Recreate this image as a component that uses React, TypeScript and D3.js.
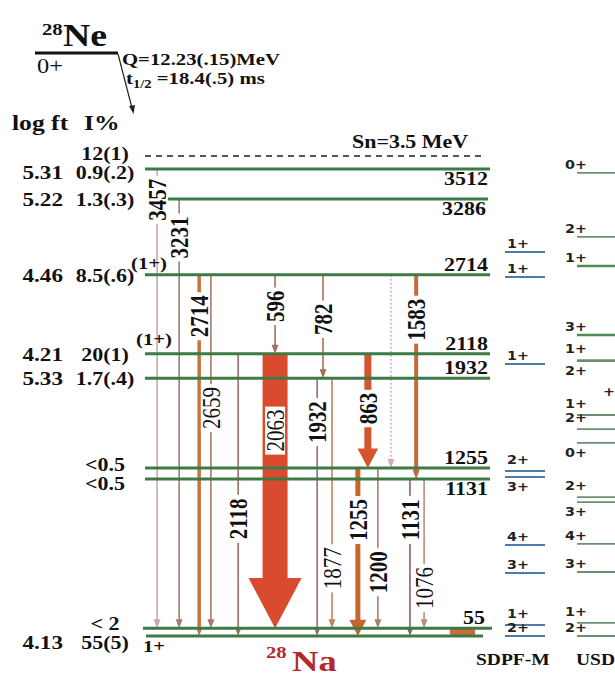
import React from "react";
import * as d3 from "d3";

// ---------------- data ----------------
const levelEnergies = [0, 55, 1131, 1255, 1932, 2118, 2714, 3286, 3512];
const levelNames = ["", "55", "1131", "1255", "1932", "2118", "2714", "3286", "3512"];
const levelLogft = ["4.13", "", "", "", "5.33", "4.21", "4.46", "5.22", "5.31"];
const levelFeeding = ["55(5)", "< 2", "<0.5", "<0.5", "1.7(.4)", "20(1)", "8.5(.6)", "1.3(.3)", "0.9(.2)"];
const levelSpins = ["1+", "", "", "", "", "(1+)", "(1+)", "", ""];

const snEnergy = 3500;
const snLabel = "Sn=3.5 MeV";
const snFeeding = "12(1)";

const gammaEnergies = [3457, 3231, 2714, 2659, 2118, 2063, 596, 782, 1932, 1877, 1583, 863, 1255, 1200, 1131, 1076, 1459];
const gammaFrom = [3512, 3286, 2714, 2714, 2118, 2118, 2714, 2714, 1932, 1932, 2714, 2118, 1255, 1255, 1131, 1131, 2714];
const gammaTo = [55, 55, 0, 55, 0, 55, 2118, 1932, 0, 55, 1131, 1255, 0, 55, 0, 55, 1255];
const gammaIntensity = [4, 4, 14, 4, 4, 100, 4, 5, 4, 5, 16, 28, 20, 4, 4, 4, 3];
const gammaTentative = [false, false, false, false, false, false, false, false, false, false, false, false, false, false, false, false, true];

const lowGammaEnergy = 55;

const sdpfSpins = ["1+", "1+", "1+", "2+", "3+", "4+", "3+", "1+", "2+"];
const sdpfEnergies = [2885, 2697, 2040, 1221, 1154, 656, 454, 79, 0];
const usdSpins = ["0+", "2+", "1+", "3+", "1+", "2+", "1+", "2+", "0+", "2+", "3+", "4+", "3+", "1+", "2+"];
const usdEnergies = [3482, 2999, 2780, 2259, 2070, 2062, 1655, 1549, 1444, 1001, 965, 663, 461, 94, 0];
const usdCutLabel = "+";

const parentName = "Ne";
const parentMass = "28";
const parentSpin = "0+";
const qText = "Q=12.23(.15)MeV";
const halfLife = "=18.4(.5) ms";
const daughterName = "Na";
const daughterMass = "28";

// ---------------- layout / style ----------------
const W = 615;
const H = 676;
const SX = 1.22;
const SERIF = "'Liberation Serif','Times New Roman',serif";
const SANS = "'DejaVu Sans','Liberation Sans',sans-serif";
const LEVEL_COLOR = "#3d7a46";

const levelX0 = [146, 143, 145, 145, 145, 145, 145, 168, 145];
const levelX1 = [483, 492, 490, 490, 490, 490, 490, 488, 490];
const levelNameBelow = [false, false, true, false, false, false, false, true, true];

const gammaSlot = [3.5, 9.9, 15.7, 19.1, 27, 37.7, 37.7, 51.6, 49.9, 54.2, 78.6, 64.6, 61.7, 67.5, 76.8, 80.9, 71.3];
const gammaLabelFrac = [0.067, 0.09, 0.115, 0.377, 0.585, 0.28, 0.4, 0.43, 0.17, 0.76, 0.22, 0.48, 0.31, 0.65, 0.26, 0.73, 0.5];
const gammaColor = ["#c9aaa6", "#a67a6c", "#c8743e", "#a8786a", "#9b6c66", "#da4a2e", "#a0705e", "#a8705a", "#9a6e70", "#c4825e", "#c46a3c", "#d4542e", "#c8642e", "#b07a6c", "#8c5e62", "#bb8c80", "#c89a9a"];
const gammaBold = [true, true, true, false, true, false, true, true, true, false, true, true, true, true, true, false, true];

const yScale = d3.scaleLinear().domain([0, 1131, 1255, 3512]).range([636, 479, 468, 169]);
const xSlot = d3.scaleLinear().domain([0, 100]).range([145, 490]);
const wScale = d3.scaleLinear().domain([0, 100]).range([0, 25]);

type TP = {
  x: number; y: number; size: number; weight?: string | number; anchor?: string;
  fill?: string; rot?: boolean; family?: string; sx?: number; baseline?: string; children: React.ReactNode;
};
const T = ({ x, y, size, weight = "bold", anchor = "start", fill = "#111", rot = false, family = SERIF, sx = SX, baseline, children }: TP) => (
  <text
    transform={`translate(${x},${y}) scale(${sx},1)${rot ? " rotate(-90)" : ""}`}
    fontSize={size}
    fontWeight={weight as any}
    textAnchor={anchor as any}
    fill={fill}
    fontFamily={family}
    dominantBaseline={baseline as any}
  >
    {children}
  </text>
);

// label offset for theory levels: raise a bit more when the next lower level is very close
const theoryLabelY = (energies: number[], i: number, below: boolean) => {
  const y = yScale(energies[i]);
  if (below) return y + 14;
  const next = energies[i + 1];
  const crowded = next !== undefined && yScale(next) - y < 15;
  return y - (crowded ? 7 : 4);
};

export default function App() {
  const snY = yScale(levelEnergies[levelEnergies.length - 1]) - 13;

  // row labels (log ft / I%) with simple collision avoidance
  const rows = levelEnergies.map((e, i) => ({ y: yScale(e) + 7, logft: levelLogft[i], feed: levelFeeding[i] }));
  rows.push({ y: snY + 7, logft: "", feed: snFeeding });
  rows.sort((a, b) => a.y - b.y);
  for (let i = 1; i < rows.length; i++) {
    if (rows[i].y - rows[i - 1].y < 19) {
      const m = (rows[i].y + rows[i - 1].y) / 2;
      rows[i - 1].y = m - 9.5;
      rows[i].y = m + 9.5;
    }
  }

  const gammas = gammaEnergies.map((g, i) => {
    const x = xSlot(gammaSlot[i]);
    const y1 = yScale(gammaFrom[i]);
    const y2 = yScale(gammaTo[i]);
    const w = Math.max(1.6, wScale(gammaIntensity[i]));
    const big = w >= 5;
    const hw = big ? 8 + 1.8 * w : 7;
    const hh = big ? 0.95 * hw : 9;
    const ly = y1 + gammaLabelFrac[i] * (y2 - y1);
    const label = String(g);
    const boxH = label.length * 0.5 * 21 + 6;
    return { i, x, y1, y2, w, hw, hh, ly, label, boxH };
  });

  const lowX0 = 450, lowX1 = 475;

  return (
    <svg width={W} height={H} style={{ position: "absolute", left: 0, top: 0, background: "#fff" }}>
      <rect x={0} y={0} width={W} height={H} fill="#fff" />

      {/* parent */}
      <T x={42} y={35} size={17}>{parentMass}</T>
      <T x={63} y={46} size={31}>{parentName}</T>
      <line x1={35} x2={118} y1={53} y2={53} stroke="#111" strokeWidth={3} />
      <T x={37} y={73} size={20} weight="normal">{parentSpin}</T>
      <line x1={118} y1={54} x2={132} y2={108} stroke="#222" strokeWidth={1.2} />
      <polygon points="129,106 135,105 133.5,114" fill="#222" />
      <T x={122} y={65} size={17}>{qText}</T>
      <text transform={`translate(126,84) scale(${SX},1)`} fontFamily={SERIF} fontWeight="bold" fontSize={17} fill="#111">
        t<tspan fontSize={12} dy={4}>1/2</tspan>
        <tspan dy={-4}> {halfLife}</tspan>
      </text>

      <T x={12} y={130} size={21}>log ft</T>
      <T x={84} y={130} size={21}>I%</T>

      {/* Sn */}
      <T x={352} y={148} size={18}>{snLabel}</T>
      <line x1={145} x2={485} y1={snY} y2={snY} stroke="#555" strokeWidth={2} strokeDasharray="6,5" />

      {/* transitions */}
      {gammas.map((g) => {
        const col = gammaColor[g.i];
        const tent = gammaTentative[g.i];
        const end = g.y2 - g.hh + 1;
        return (
          <g key={"g" + g.i}>
            {g.w >= 3 ? (
              <rect x={g.x - g.w / 2} y={g.y1} width={g.w} height={end - g.y1} fill={col} />
            ) : (
              <line x1={g.x} x2={g.x} y1={g.y1} y2={end} stroke={col} strokeWidth={tent ? 1.3 : g.w} strokeDasharray={tent ? "2,2" : undefined} />
            )}
            <polygon
              points={`${g.x - g.hw / 2},${g.y2 - g.hh} ${g.x + g.hw / 2},${g.y2 - g.hh} ${g.x},${g.y2}`}
              fill={col}
              opacity={tent ? 0.8 : 1}
            />
          </g>
        );
      })}

      {/* 55 keV transition box */}
      <rect x={lowX0} y={yScale(lowGammaEnergy)} width={lowX1 - lowX0} height={yScale(0) - yScale(lowGammaEnergy)} fill="#d0683a" />

      {/* levels */}
      {levelEnergies.map((e, i) => (
        <line key={"l" + i} x1={levelX0[i]} x2={levelX1[i]} y1={yScale(e)} y2={yScale(e)} stroke={LEVEL_COLOR} strokeWidth={3} />
      ))}

      {/* transition labels */}
      {gammas.map((g) =>
        gammaTentative[g.i] ? null : (
          <g key={"gl" + g.i}>
            <rect x={g.x - 10} y={g.ly - g.boxH / 2} width={20} height={g.boxH} fill="#fff" />
            <T x={g.x} y={g.ly} size={21} rot anchor="middle" baseline="central" weight={gammaBold[g.i] ? "bold" : "normal"}>
              {g.label}
            </T>
          </g>
        )
      )}

      {/* level names on right */}
      {levelEnergies.map((e, i) =>
        levelNames[i] ? (
          <T key={"n" + i} x={levelX1[i] - (i === 1 ? 7 : 2)} y={yScale(e) + (levelNameBelow[i] ? 16 : -4)} size={18} anchor="end">
            {levelNames[i]}
          </T>
        ) : null
      )}

      {/* spins on left */}
      {levelEnergies.map((e, i) =>
        levelSpins[i] ? (
          i === 0 ? (
            <T key={"s" + i} x={143} y={yScale(e) + 16} size={17}>{levelSpins[i]}</T>
          ) : (
            <T key={"s" + i} x={i === 6 ? 131 : 136} y={yScale(e) + (i === 6 ? -6 : -9)} size={17}>{levelSpins[i]}</T>
          )
        ) : null
      )}

      {/* log ft / I% rows */}
      {rows.map((r, i) => (
        <g key={"r" + i}>
          {r.logft && <T x={63} y={r.y} size={19} anchor="end">{r.logft}</T>}
          {r.feed && <T x={105} y={r.y} size={18} anchor="middle">{r.feed}</T>}
        </g>
      ))}

      {/* daughter */}
      <T x={266} y={658} size={17} fill="#b22a2a">{daughterMass}</T>
      <T x={292} y={671} size={30} fill="#b22a2a">{daughterName}</T>

      {/* SDPF-M column */}
      {sdpfEnergies.map((e, i) => {
        const y = yScale(e);
        const below = i === 4;
        return (
          <g key={"sd" + i}>
            <line x1={505} x2={545} y1={y} y2={y} stroke="#4a7ca8" strokeWidth={2} />
            <T x={507} y={theoryLabelY(sdpfEnergies, i, below)} size={13} family={SANS} sx={1.1} fill="#222">{sdpfSpins[i]}</T>
          </g>
        );
      })}
      <T x={476} y={665} size={16}>SDPF-M</T>

      {/* USD column */}
      {usdEnergies.map((e, i) => {
        const y = yScale(e);
        const below = i === 5 || i === 8 || i === 10;
        return (
          <g key={"us" + i}>
            <line x1={577} x2={615} y1={y} y2={y} stroke={i === 2 || i === 3 ? "#4f8a52" : "#6a9070"} strokeWidth={i === 2 || i === 3 ? 2.5 : 1.8} />
            <T x={565} y={theoryLabelY(usdEnergies, i, below)} size={13} family={SANS} sx={1.1} fill="#222">{usdSpins[i]}</T>
          </g>
        );
      })}
      <T x={603} y={396} size={13} family={SANS} sx={1.1} fill="#222">{usdCutLabel}</T>
      <T x={576} y={665} size={16}>USD</T>
    </svg>
  );
}
